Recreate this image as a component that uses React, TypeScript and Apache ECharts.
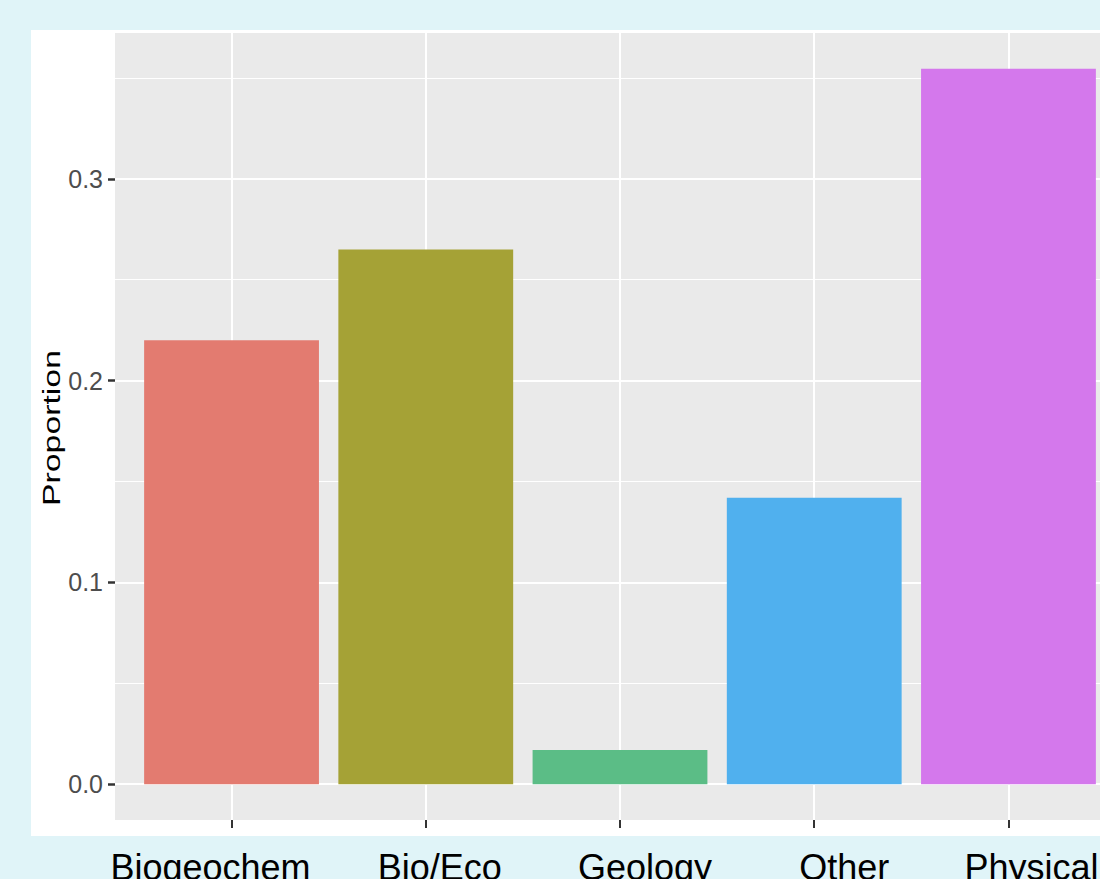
import React, { useEffect, useRef } from "react";
import * as echarts from "echarts";

const categories = ["Biogeochem", "Bio/Eco", "Geology", "Other", "Physical"];
const proportions = [0.22, 0.265, 0.017, 0.142, 0.3545];
const barColors = ["#E37B70", "#A5A236", "#5BBD86", "#50B0EE", "#D478EC"];
const yMajorTicks = [0, 0.1, 0.2, 0.3];
const yMinorTicks = [0.05, 0.15, 0.25, 0.35];
// horizontal nudge (px) of each overlaid category label relative to its tick
const labelShift = [-21, 14, 25, 30, 23];

export default function App() {
  const ref = useRef<HTMLDivElement>(null);
  useEffect(() => {
    if (!ref.current) return;
    const chart = echarts.init(ref.current, undefined, { renderer: "svg" });
    const yMaxData = Math.max(...proportions);
    const pad = yMaxData * 0.05;
    const yMin = -pad;
    const yMax = yMaxData + pad;
    const catIdx = categories.map((_, i) => i);

    chart.setOption({
      animation: false,
      backgroundColor: "#E0F4F8",
      graphic: [
        {
          id: "panel",
          type: "rect",
          z: -1,
          shape: { x: 31, y: 30, width: 1075, height: 806 },
          style: { fill: "#FFFFFF" },
          silent: true,
        },
        {
          id: "ytitle",
          type: "text",
          x: 52,
          y: 428,
          rotation: Math.PI / 2,
          scaleX: 1.47,
          scaleY: 1,
          z: 10,
          style: {
            text: "Proportion",
            fontFamily: "Liberation Sans, Arial, sans-serif",
            fontSize: 23,
            fill: "#000",
            align: "center",
            verticalAlign: "middle",
          },
        },
      ],
      grid: {
        left: 115,
        top: 33,
        width: 1010,
        height: 787,
        show: true,
        backgroundColor: "#EAEAEA",
        borderWidth: 0,
        containLabel: false,
        outerBoundsMode: "none",
      },
      xAxis: {
        type: "value",
        min: -0.6,
        max: categories.length - 0.4,
        axisLine: { show: false, onZero: false },
        axisTick: {
          show: true,
          customValues: catIdx,
          length: 8,
          lineStyle: { color: "#333", width: 2 },
        },
        axisLabel: { show: false, customValues: catIdx },
        splitLine: { show: true, lineStyle: { color: "#FFFFFF", width: 2 } },
      },
      yAxis: [
        {
          type: "value",
          min: yMin,
          max: yMax,
          axisLine: { show: false, onZero: false },
          axisTick: {
            show: true,
            customValues: yMajorTicks,
            length: 7,
            lineStyle: { color: "#333", width: 2.5 },
          },
          axisLabel: {
            show: true,
            customValues: yMajorTicks,
            showMinLabel: true,
            showMaxLabel: true,
            margin: 12,
            formatter: (v: number) => v.toFixed(1),
            fontFamily: "Liberation Sans, Arial, sans-serif",
            fontSize: 25,
            color: "#4D4D4D",
          },
          splitLine: { show: true, lineStyle: { color: "#FFFFFF", width: 2 } },
        },
        {
          type: "value",
          min: yMin,
          max: yMax,
          position: "left",
          axisLine: { show: false, onZero: false },
          axisTick: { show: false, customValues: yMinorTicks },
          axisLabel: { show: false, customValues: yMinorTicks },
          splitLine: { show: true, lineStyle: { color: "#FFFFFF", width: 1 } },
        },
      ],
      series: [
        {
          type: "bar",
          xAxisIndex: 0,
          yAxisIndex: 0,
          barWidth: "90%",
          z: 3,
          data: proportions.map((v, i) => ({
            value: [i, v],
            itemStyle: { color: barColors[i] },
          })),
        },
      ],
    });

    // overlaid category names, placed from the x axis' own scale
    const labelY = (chart.convertToPixel({ yAxisIndex: 0 }, yMin) as number) + 47;
    chart.setOption({
      graphic: categories.map((name, i) => ({
        id: "cat" + i,
        type: "text",
        x: (chart.convertToPixel({ xAxisIndex: 0 }, i) as number) + labelShift[i],
        y: labelY,
        z: 10,
        style: {
          text: name,
          fontFamily: "Liberation Sans, Arial, sans-serif",
          fontSize: 36,
          fill: "#000",
          align: "center",
          verticalAlign: "middle",
        },
      })),
    });
    return () => chart.dispose();
  }, []);
  return (
    <div
      ref={ref}
      style={{ position: "absolute", left: 0, top: 0, width: 1100, height: 879 }}
    />
  );
}
